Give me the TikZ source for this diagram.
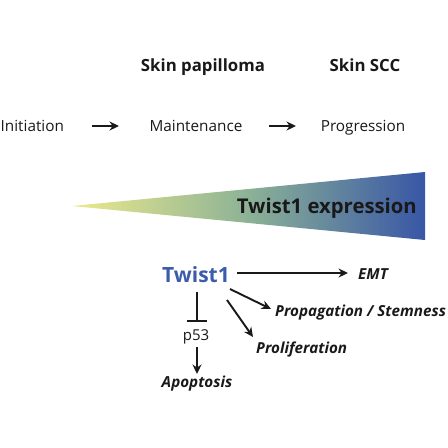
\documentclass[tikz,border=0pt]{standalone}
\usepackage{fontspec}
\setmainfont{Open Sans}
\usetikzlibrary{arrows.meta}
\definecolor{twistblue}{RGB}{58,92,170}
\definecolor{gyellow}{RGB}{236,234,140}
\definecolor{gmid}{RGB}{140,178,150}
\definecolor{gblue}{RGB}{56,86,166}
\definecolor{ink}{RGB}{25,25,25}
\begin{document}
\begin{tikzpicture}[x=1pt,y=-1pt,
  heading/.style={font=\bfseries\fontsize{16.8}{19}\selectfont, text=ink, inner sep=0pt, anchor=base},
  stage/.style={font=\fontsize{15.3}{17}\selectfont, text=ink, inner sep=0pt, anchor=base},
  outcome/.style={font=\bfseries\itshape\fontsize{15.2}{17}\selectfont, text=ink, inner sep=0pt, anchor=base west},
  arr/.style={-{Stealth[length=9.5pt,width=9pt]}, line width=1.9pt, draw=ink},
  inhib/.style={-{Bar[width=20pt]}, line width=1.9pt, draw=ink}]
\useasboundingbox (0,0) rectangle (448,448);
% headings
\node[heading] (pap) at (203,71) {Skin papilloma};
\node[heading] (scc) at (365,71) {Skin SCC};
% stages
\node[stage, anchor=base west] (ini) at (0.5,131) {Initiation};
\node[stage] (mai) at (196,131) {Maintenance};
\node[stage] (pro) at (363,131) {Progression};
\coordinate (a1s) at (92,126); \coordinate (a1e) at (119,126);
\coordinate (a2s) at (269,126); \coordinate (a2e) at (296,126);
\draw[arr] (a1s) -- (a1e);
\draw[arr] (a2s) -- (a2e);
% gradient wedge
\shade[left color=gyellow, right color=gblue, middle color=gmid] (72,206) -- (425,172) -- (425,240) -- cycle;
\node[font=\bfseries\fontsize{20.3}{23}\selectfont, text=ink, inner sep=0pt, anchor=base east] (expr) at (417,213) {Twist1 expression};
% Twist1 network
\node[font=\bfseries\fontsize{21}{24}\selectfont, text=twistblue, inner sep=0pt, anchor=base] (tw) at (196,282) {Twist1};
\node[outcome] (emt) at (358,279) {EMT};
\node[outcome] (prop) at (275,316) {Propagation / Stemness};
\node[outcome] (prol) at (256,353) {Proliferation};
\node[stage, font=\fontsize{15}{17}\selectfont] (p53) at (196,340) {p53};
\node[outcome, anchor=base] (apo) at (197,387) {Apoptosis};
\coordinate (e1) at (237,273); \coordinate (e2) at (348,273);
\draw[arr] (e1) -- (e2);
\coordinate (p1) at (230,289); \coordinate (p2) at (271,309);
\draw[arr] (p1) -- (p2);
\coordinate (q1) at (227,300); \coordinate (q2) at (253,337);
\draw[arr] (q1) -- (q2);
\coordinate (t1) at (197,292); \coordinate (t2) at (197,322);
\draw[inhib] (t1) -- (t2);
\coordinate (s1) at (197,347); \coordinate (s2) at (197,374);
\draw[arr] (s1) -- (s2);
\end{tikzpicture}
\end{document}
